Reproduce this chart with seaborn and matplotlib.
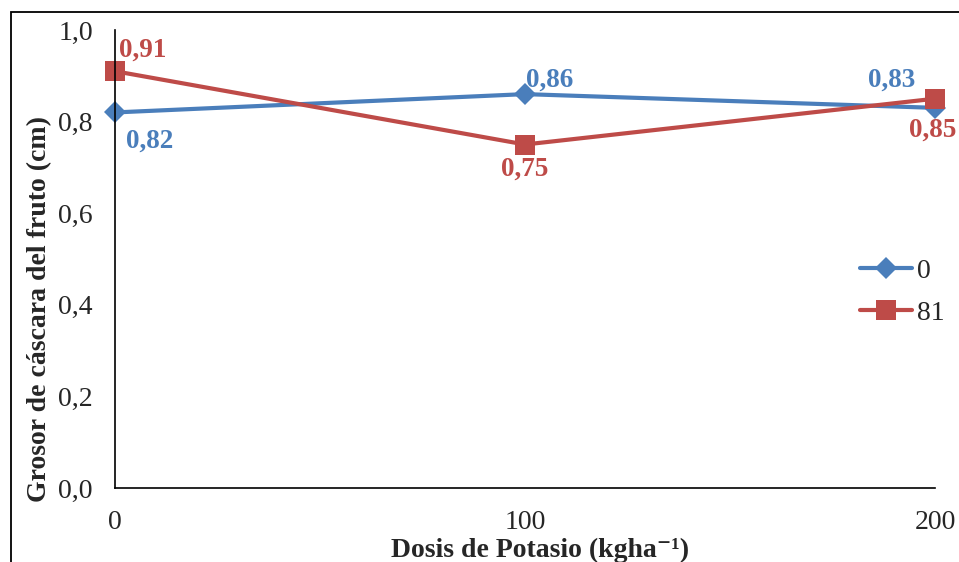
import matplotlib
matplotlib.use('Agg')
import matplotlib.pyplot as plt
import matplotlib.patches as mpatches
from matplotlib.ticker import FuncFormatter
import seaborn as sns
import pandas as pd

# datos
dosis = [0, 100, 200]
grosor_0 = [0.82, 0.86, 0.83]
grosor_81 = [0.91, 0.75, 0.85]
niveles = ['0', '81']

df = pd.DataFrame({
    'Dosis': dosis * 2,
    'Grosor': grosor_0 + grosor_81,
    'Nivel': [niveles[0]] * 3 + [niveles[1]] * 3,
})

sns.set_style('white')
plt.rcParams['font.family'] = ['Liberation Serif', 'DejaVu Serif']

azul = '#4A7EBB'
rojo = '#BE4B48'
tam = 20

fig = plt.figure(figsize=(9.59, 5.62), dpi=100)
ax = fig.add_axes([115 / 959, 1 - 488 / 562, 820 / 959, 458 / 562])

sns.lineplot(data=df, x='Dosis', y='Grosor', hue='Nivel', style='Nivel',
             palette={'0': azul, '81': rojo}, markers={'0': 'D', '81': 's'},
             dashes=False, linewidth=3, ax=ax)
for ln, ms in zip(ax.lines, [11, 14]):
    ln.set_markersize(ms)
    ln.set_markeredgewidth(0)
    ln.set_clip_on(False)

ax.set_xlim(0, 200)
ax.set_ylim(0, 1.0)
ax.set_xticks([0, 100, 200])
ax.set_yticks([0, 0.2, 0.4, 0.6, 0.8, 1.0])
ax.yaxis.set_major_formatter(FuncFormatter(lambda v, p: f'{v:.1f}'.replace('.', ',')))
ax.tick_params(axis='y', direction='in', length=5, width=1.2, pad=16, labelsize=tam)
ax.tick_params(axis='x', direction='out', length=6, width=1.2, pad=10, labelsize=tam)
for s in ['top', 'right']:
    ax.spines[s].set_visible(False)
for s in ['left', 'bottom']:
    ax.spines[s].set_linewidth(1.2)
    ax.spines[s].set_color('black')

ax.set_xlabel('Dosis de Potasio (kgha⁻¹)', fontsize=tam, fontweight='bold')
ax.xaxis.set_label_coords(0.518, -0.108)
ax.set_ylabel('Grosor de cáscara del fruto (cm)', fontsize=tam, fontweight='bold')
ax.yaxis.set_label_coords(-0.077, 0.39)

# etiquetas de datos (desplazamiento en puntos)
off_0 = [(25, -21), (18, 10), (-31, 20)]
off_81 = [(20, 15), (0, -18), (-2, -23)]
for serie, offs, col in [(grosor_0, off_0, azul), (grosor_81, off_81, rojo)]:
    for xv, yv, o in zip(dosis, serie, offs):
        ax.annotate(f'{yv:.2f}'.replace('.', ','), (xv, yv), xytext=o,
                    textcoords='offset points', ha='center', va='center',
                    color=col, fontsize=19.5, fontweight='bold', clip_on=False)

leg = ax.legend(loc='center left', bbox_to_anchor=(0.9085, 0.428), frameon=False,
                fontsize=tam, handlelength=1.87, handletextpad=0.2, labelspacing=0.6,
                borderpad=0, borderaxespad=0)
for h, ms in zip(leg.legend_handles, [11, 14]):
    h.set_linewidth(3)
    h.set_markersize(ms)
    h.set_markeredgewidth(0)

fig.patches.append(mpatches.Rectangle((11 / 959, -0.1), 1.2, 1 - 12 / 562 + 0.1,
                                      transform=fig.transFigure, fill=False,
                                      edgecolor='black', linewidth=1.3))

fig.savefig('out.png', dpi=100)
